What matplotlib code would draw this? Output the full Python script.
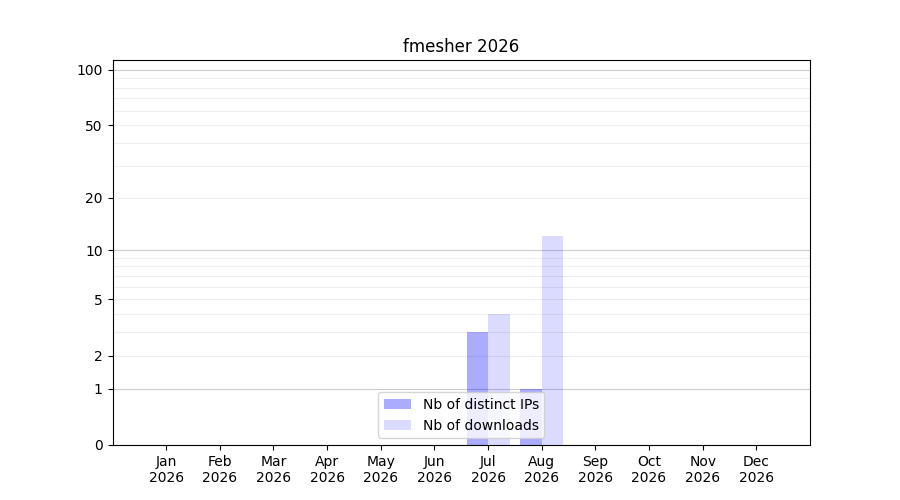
import matplotlib
matplotlib.use("Agg")
import matplotlib.pyplot as plt
import numpy as np

months = ["Jan", "Feb", "Mar", "Apr", "May", "Jun", "Jul", "Aug", "Sep", "Oct", "Nov", "Dec"]
year = "2026"
distinct_ips = [0, 0, 0, 0, 0, 0, 3, 1, 0, 0, 0, 0]
downloads = [0, 0, 0, 0, 0, 0, 4, 12, 0, 0, 0, 0]
major_ticks = [0, 1, 2, 5, 10, 20, 50, 100]
major_grid = [1, 10, 100]
minor_grid = [2, 3, 4, 5, 6, 7, 8, 9, 20, 30, 40, 50, 60, 70, 80, 90]

fig, ax = plt.subplots(figsize=(9, 5), dpi=100)
x = np.arange(len(months))
w = 0.4

ax.set_yscale("function", functions=(lambda v: np.log10(1 + np.clip(v, 0, None)),
                                     lambda v: 10 ** v - 1))

for g in major_grid:
    ax.axhline(g, color="#cccccc", lw=0.8, zorder=0)
for g in minor_grid:
    ax.axhline(g, color="#eeeeee", lw=0.8, zorder=0)

ax.bar(x, distinct_ips, width=-w, align="edge", color="blue", alpha=0.33,
       label="Nb of distinct IPs", zorder=2)
ax.bar(x, downloads, width=w, align="edge", color="blue", alpha=0.14,
       label="Nb of downloads", zorder=2)

ax.set_ylim(0, 113)
ax.set_xlim(-1, 12)
ax.set_yticks(major_ticks)
ax.set_yticklabels([str(t) for t in major_ticks])
ax.yaxis.set_minor_locator(matplotlib.ticker.NullLocator())
ax.set_xticks(x)
ax.set_xticklabels([f"{m}\n{year}" for m in months])
ax.set_title("fmesher 2026")
ax.legend(loc="lower center")

fig.savefig("out.png")
